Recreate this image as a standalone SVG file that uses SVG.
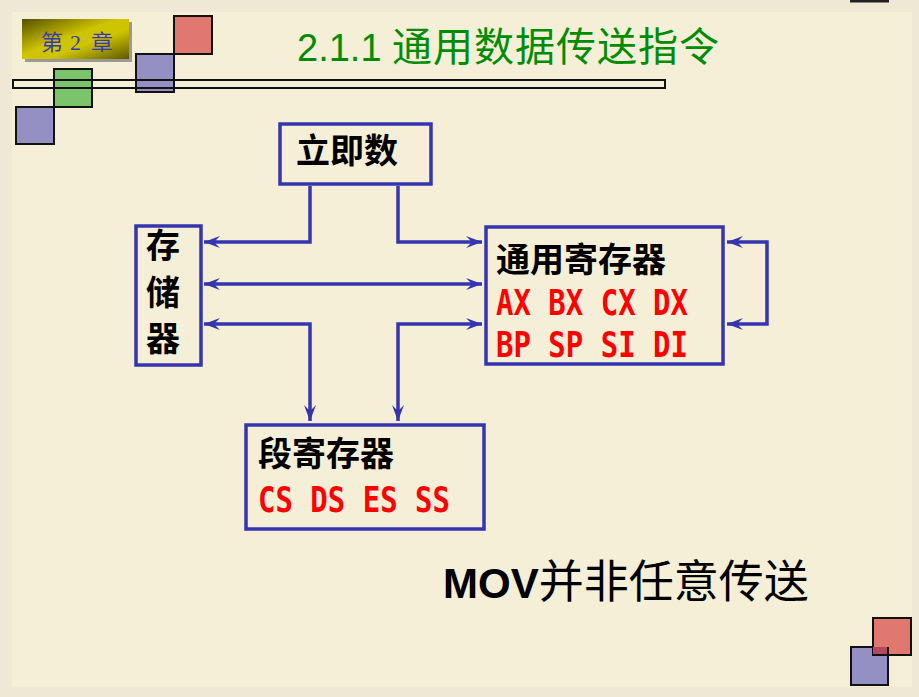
<svg xmlns="http://www.w3.org/2000/svg" width="919" height="697" viewBox="0 0 919 697">
<style>
.sq{stroke:#111;stroke-width:2}
.box{fill:none;stroke:#3535AE;stroke-width:3.5}
.ln{fill:none;stroke:#3535AE;stroke-width:3.5}
.cn{font-family:"Noto Sans CJK SC","Noto Sans",sans-serif;font-weight:bold;font-size:34px;fill:#000}
.reg{font-family:"DejaVu Sans Mono","Liberation Mono",monospace;font-weight:bold;font-size:35px;fill:#FF0000}
.bd{font-family:"Liberation Serif","Noto Sans CJK SC",serif;font-size:22px;fill:#3A3AB0}
</style>
<defs>
<linearGradient id="bg" x1="0" y1="0" x2="1" y2="1">
<stop offset="0" stop-color="#555000"/>
<stop offset="0.45" stop-color="#CFC400"/>
<stop offset="0.62" stop-color="#CFC400"/>
<stop offset="1" stop-color="#5E5800"/>
</linearGradient>
<marker id="ah" viewBox="-17 -7 18 14" refX="0" refY="0" markerWidth="18" markerHeight="14" markerUnits="userSpaceOnUse" orient="auto-start-reverse">
<path d="M0,0 L-16,-6 L-10,0 L-16,6 Z" fill="#3535AE"/>
</marker>
</defs>
<rect x="0" y="0" width="919" height="697" fill="#EFE8D5"/>
<rect x="12" y="12" width="900" height="675" fill="#F5EFD8"/>
<rect x="850" y="0" width="39" height="2.5" fill="#222"/>

<g id="decor">
<rect x="25" y="22" width="107" height="40" fill="#9A9A90"/>
<rect x="22" y="19" width="107" height="40" fill="url(#bg)"/>
<text class="bd" x="41" y="50">第</text>
<text class="bd" x="70" y="50">2</text>
<text class="bd" x="91" y="50">章</text>
<rect class="sq" x="174" y="16" width="38" height="38" fill="#E07870"/>
<rect class="sq" x="136" y="54" width="38" height="38" fill="#9490C4"/>
<rect class="sq" x="54" y="69" width="38" height="38" fill="#7CC46C"/>
<rect class="sq" x="16" y="107" width="38" height="37" fill="#9490C4"/>
<rect x="13" y="80" width="652" height="8" fill="none" stroke="#111" stroke-width="2"/>
<rect class="sq" x="851" y="647" width="37" height="38" fill="#9490C4"/>
<rect class="sq" x="873" y="618" width="38" height="37" fill="#E07870"/>
<rect x="873" y="647" width="15" height="8" fill="#B44A62"/>
<path d="M873,655 H888 V647" fill="none" stroke="#111" stroke-width="2"/>
</g>

<text id="title" x="297" y="61" font-family="'Liberation Sans','Noto Sans CJK SC',sans-serif" font-size="38" fill="#008C00" xml:space="preserve"><tspan>2.1.1 </tspan><tspan font-family="'Noto Sans CJK SC',sans-serif" font-size="40" letter-spacing="1">通用数据传送指令</tspan></text>

<g id="connectors">
<path class="ln" d="M310,186 V242 H204" marker-end="url(#ah)"/>
<path class="ln" d="M398,186 V242 H482" marker-end="url(#ah)"/>
<path class="ln" d="M204,284 H482" marker-start="url(#ah)" marker-end="url(#ah)"/>
<path class="ln" d="M204,324 H310 V421" marker-start="url(#ah)" marker-end="url(#ah)"/>
<path class="ln" d="M482,324 H398 V421" marker-start="url(#ah)" marker-end="url(#ah)"/>
<path class="ln" d="M727,242 H767 V324 H727" marker-start="url(#ah)" marker-end="url(#ah)"/>
</g>

<g id="imm">
<rect class="box" x="280" y="124" width="151" height="60"/>
<text class="cn" x="296" y="163">立即数</text>
</g>

<g id="mem">
<rect class="box" x="136" y="226" width="65" height="139"/>
<text class="cn" x="146" y="258">存</text>
<text class="cn" x="146" y="305">储</text>
<text class="cn" x="146" y="351">器</text>
</g>

<g id="gpr">
<rect class="box" x="486" y="227" width="237" height="137"/>
<text class="cn" x="496" y="272">通用寄存器</text>
<text class="reg" x="496" y="315" textLength="192" lengthAdjust="spacingAndGlyphs" xml:space="preserve">AX BX CX DX</text>
<text class="reg" x="496" y="357" textLength="192" lengthAdjust="spacingAndGlyphs" xml:space="preserve">BP SP SI DI</text>
</g>

<g id="seg">
<rect class="box" x="246" y="425" width="238" height="104"/>
<text class="cn" x="258" y="466">段寄存器</text>
<text class="reg" x="258" y="512" textLength="192" lengthAdjust="spacingAndGlyphs" xml:space="preserve">CS DS ES SS</text>
</g>

<text id="note" x="443" y="598" font-size="45" fill="#000"><tspan font-family="'Liberation Sans',sans-serif" font-weight="bold" font-size="42">MOV</tspan><tspan font-family="'Noto Sans CJK SC',sans-serif">并非任意传送</tspan></text>
</svg>
